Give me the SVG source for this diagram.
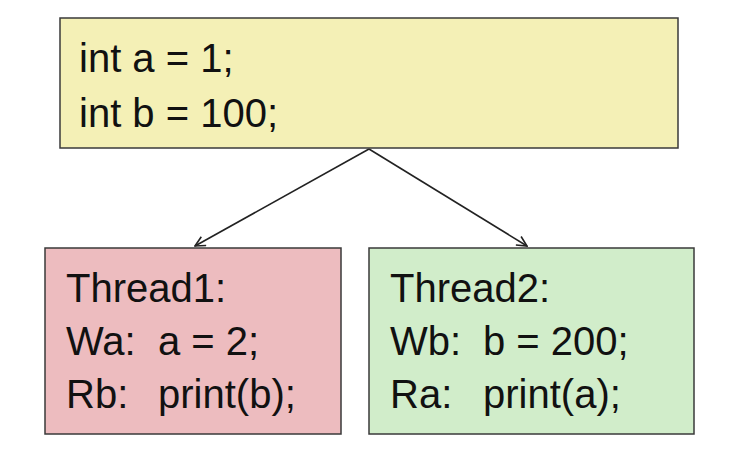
<svg xmlns="http://www.w3.org/2000/svg" width="736" height="470" viewBox="0 0 736 470">
<defs>
<style>
.box{stroke:#3a3a3a;stroke-width:1.5}
.t{font-family:"Liberation Sans",Arial,sans-serif;font-size:40px;fill:#111}
.edge{stroke:#222;stroke-width:1.6;fill:none}
</style>
<marker id="arr" viewBox="0 0 12 12" refX="11" refY="6" markerWidth="12" markerHeight="12" markerUnits="userSpaceOnUse" orient="auto">
<path d="M1,1 L11,6 L1,11" fill="none" stroke="#222" stroke-width="1.6"/>
</marker>
</defs>
<rect width="736" height="470" fill="#fff"/>
<g id="connectors">
<line class="edge" x1="369" y1="149" x2="195" y2="246" marker-end="url(#arr)"/>
<line class="edge" x1="369" y1="149" x2="527" y2="246" marker-end="url(#arr)"/>
</g>
<g id="init">
<rect class="box" x="60" y="18" width="618" height="130" fill="#f4f0b6"/>
<text class="t" x="79" y="72">int a = 1;</text>
<text class="t" x="79" y="127">int b = 100;</text>
</g>
<g id="thread1">
<rect class="box" x="45" y="248" width="296" height="186" fill="#edbcbf"/>
<text class="t" x="66" y="302">Thread1:</text>
<text class="t" y="355"><tspan x="66">Wa:</tspan><tspan x="158">a = 2;</tspan></text>
<text class="t" y="408"><tspan x="66">Rb:</tspan><tspan x="158">print(b);</tspan></text>
</g>
<g id="thread2">
<rect class="box" x="369" y="248" width="325" height="186" fill="#d1edca"/>
<text class="t" x="390" y="302">Thread2:</text>
<text class="t" y="355"><tspan x="390">Wb:</tspan><tspan x="483">b = 200;</tspan></text>
<text class="t" y="408"><tspan x="390">Ra:</tspan><tspan x="483">print(a);</tspan></text>
</g>
</svg>
